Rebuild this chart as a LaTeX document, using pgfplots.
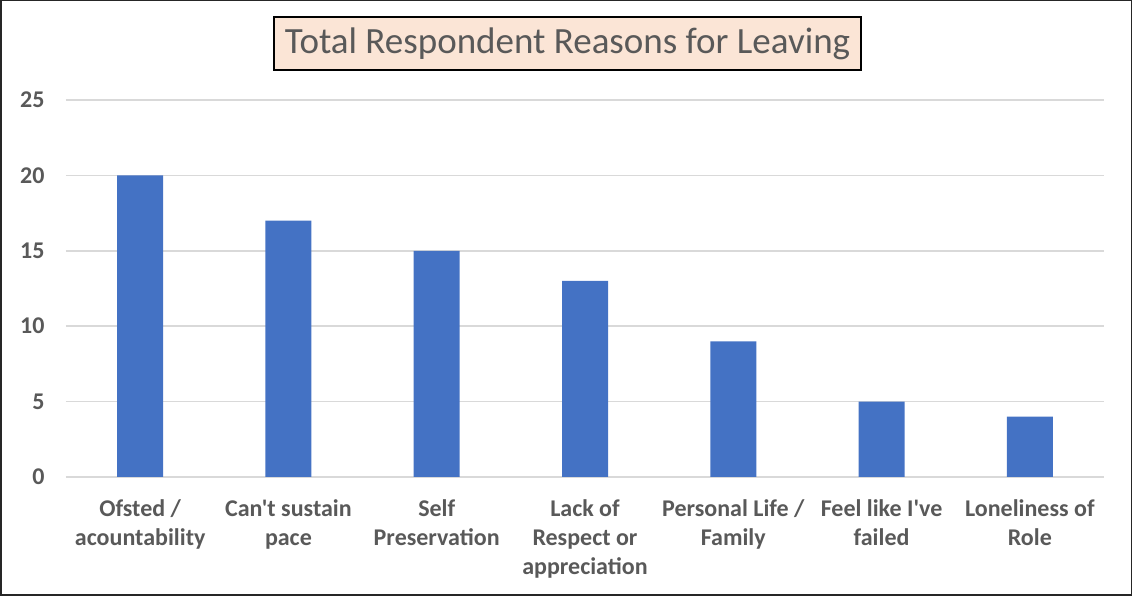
\documentclass[border=0pt]{standalone}
\usepackage{pgfplots}
\pgfplotsset{compat=1.18}
\usepackage{fontspec}
\setmainfont{Carlito}[Ligatures=TeXOff]
\definecolor{barblue}{HTML}{4472C4}
\definecolor{txtgrey}{HTML}{595959}
\definecolor{gridgrey}{HTML}{D9D9D9}
\definecolor{peach}{HTML}{FBE5D6}
\begin{document}
\begin{tikzpicture}[x=1pt,y=1pt]
\useasboundingbox (0,0) rectangle (1133,596);
\draw[line width=1.5pt, black!85] (0.75,0.75) rectangle (1131.5,595.25);
\begin{axis}[
  at={(66pt,119pt)}, anchor=south west,
  scale only axis, width=1038pt, height=377pt,
  xmin=-0.5, xmax=6.5, ymin=0, ymax=25,
  ytick={0,5,10,15,20,25},
  xtick=data,
  xticklabels={{Ofsted /\\acountability},{Can't sustain\\pace},{Self\\Preservation},{Lack of\\Respect or\\appreciation},{Personal Life /\\Family},{Feel like I've\\failed},{Loneliness of\\Role}},
  axis line style={draw=none},
  axis x line*=bottom,
  ymajorgrids, grid style={gridgrey, line width=1.5pt},
  major tick length=0pt,
  /pgf/number format/assume math mode=true,
  tick label style={font=\fontsize{24}{29}\selectfont\bfseries, text=txtgrey},
  xticklabel style={align=center, anchor=north, yshift=-19pt},
  yticklabel style={anchor=east, xshift=-18pt},
  ybar, bar width=46pt,
  clip=false,
]
\draw[gridgrey, line width=1.5pt] (axis cs:-0.5,0) -- (axis cs:6.5,0);
\addplot[fill=barblue, draw=none] coordinates {(0,20) (1,17) (2,15) (3,13) (4,9) (5,5) (6,4)};
\end{axis}
\node[draw=black, line width=1.5pt, fill=peach, minimum width=587pt, minimum height=53pt, inner sep=0pt,
  font=\fontsize{37}{44}\selectfont, text=txtgrey] at (567.5,552.5) {Total Respondent Reasons for Leaving};
\end{tikzpicture}
\end{document}
